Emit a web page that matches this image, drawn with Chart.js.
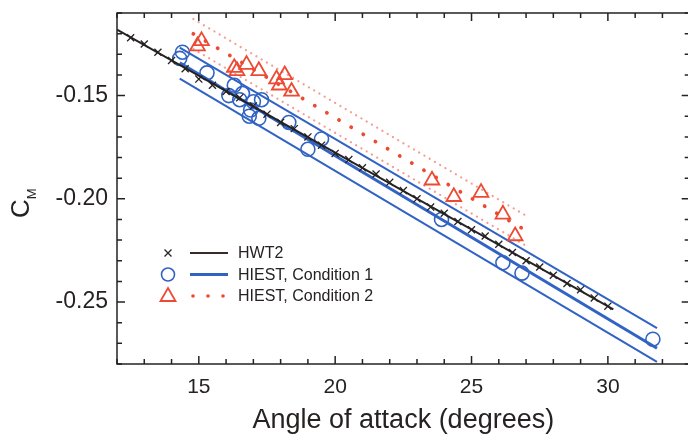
<!DOCTYPE html>
<html>
<head>
<meta charset="utf-8">
<script src="https://cdn.jsdelivr.net/npm/chart.js@4.4.1/dist/chart.umd.min.js"></script>
<style>
  html, body { margin: 0; padding: 0; background: #fff; overflow: hidden; }
  canvas { display: block; }
</style>
</head>
<body>
<canvas id="graficoCm" width="700" height="444"></canvas>
<script>
// ======== DADOS ========
// HWT2 (cruzes) e reta ajustada
const hwt2Alpha = [12.5, 13, 13.5, 14, 14.5, 15, 15.5, 16, 16.5, 17, 17.5, 18, 18.5, 19, 19.5, 20, 20.5, 21,
                   21.5, 22, 22.5, 23, 23.5, 24, 24.5, 25, 25.5, 26, 26.5, 27, 27.5, 28, 28.5, 29, 29.5, 30];
const hwt2Cm = [-0.122, -0.125, -0.129, -0.133, -0.137, -0.142, -0.145, -0.148, -0.151, -0.155, -0.159, -0.163,
                -0.166, -0.170, -0.174, -0.178, -0.181, -0.185, -0.188, -0.192, -0.196, -0.200, -0.204, -0.207,
                -0.211, -0.215, -0.218, -0.222, -0.226, -0.230, -0.233, -0.237, -0.241, -0.244, -0.248, -0.252];
const hwt2FitAlpha = [12, 30.2];
const hwt2FitCm = [-0.118, -0.2535];

// HIEST, condição 1 (círculos) + reta e limites
const cond1Alpha = [14.3, 14.4, 15.3, 16.1, 16.3, 16.5, 16.6, 16.85, 16.9, 17.0, 17.2, 17.3, 18.3, 19.0, 19.5,
                    23.9, 26.15, 26.85, 31.65];
const cond1Cm = [-0.132, -0.129, -0.139, -0.150, -0.145, -0.152, -0.149, -0.160, -0.157, -0.153, -0.161, -0.152,
                 -0.163, -0.176, -0.171, -0.210, -0.231, -0.236, -0.268];
const cond1FitAlpha = [14.3, 31.8];
const cond1FitCm = [-0.1341, -0.2724];
const cond1UpperCm = [-0.1268, -0.2626];
const cond1LowerCm = [-0.1418, -0.2790];

// HIEST, condição 2 (triângulos) + reta e limites
const cond2Alpha = [14.95, 15.1, 16.3, 16.4, 16.75, 17.2, 17.85, 17.95, 18.15, 18.4, 23.55, 24.35, 25.35, 26.15, 26.6];
const cond2Cm = [-0.126, -0.1235, -0.1365, -0.138, -0.135, -0.138, -0.142, -0.145, -0.140, -0.148, -0.191, -0.199,
                 -0.197, -0.2075, -0.218];
const cond2FitAlpha = [14.8, 27.0];
const cond2FitCm = [-0.1201, -0.2154];
const cond2UpperCm = [-0.1129, -0.2082];
const cond2LowerCm = [-0.1274, -0.2227];

// eixos
const xMin = 12, xMax = 33, xMajor = 5;
const yMin = -0.28, yMax = -0.11;

const AZUL = "#3163c4";
const VERMELHO = "#ec4a33";
const PRETO = "#262222";
const FONTE = "'Liberation Sans', Arial, Helvetica, sans-serif";

const pontos = (xs, ys) => xs.map((x, i) => ({ x: x, y: ys[i] }));

// ======== MOLDURA, TRAÇOS INTERNOS, TÍTULO Y E LEGENDA ========
const molduraPlugin = {
    id: "moldura",
    afterDraw(chart) {
        const { ctx, chartArea: a, scales: { x, y } } = chart;
        ctx.save();
        ctx.strokeStyle = PRETO;
        ctx.lineWidth = 1.5;
        ctx.strokeRect(a.left, a.top, a.right - a.left, a.bottom - a.top);

        // traços para dentro nos quatro lados
        ctx.beginPath();
        x.ticks.forEach(t => {
            const px = x.getPixelForValue(t.value);
            const len = Math.round(t.value) % xMajor === 0 ? 8 : 5;
            ctx.moveTo(px, a.bottom); ctx.lineTo(px, a.bottom - len);
            ctx.moveTo(px, a.top); ctx.lineTo(px, a.top + len);
        });
        y.ticks.forEach(t => {
            const py = y.getPixelForValue(t.value);
            const len = Math.round(t.value * 100) % 5 === 0 ? 8 : 5;
            ctx.moveTo(a.left, py); ctx.lineTo(a.left + len, py);
            ctx.moveTo(a.right, py); ctx.lineTo(a.right - len, py);
        });
        ctx.stroke();

        // título do eixo Y: C com índice M
        ctx.fillStyle = PRETO;
        ctx.translate(29, 218);
        ctx.rotate(-Math.PI / 2);
        ctx.textAlign = "left";
        ctx.textBaseline = "alphabetic";
        ctx.font = "26px " + FONTE;
        ctx.fillText("C", 0, 0);
        const wC = ctx.measureText("C").width;
        ctx.font = "13px " + FONTE;
        ctx.fillText("M", wC, 7);
        ctx.restore();

        // legenda
        const lx = a.left + 51, ly = a.top + 240, passo = 21.5;
        ctx.save();
        ctx.font = "16px " + FONTE;
        ctx.textBaseline = "middle";
        ctx.fillStyle = PRETO;

        // HWT2
        ctx.strokeStyle = PRETO;
        ctx.lineWidth = 1.3;
        ctx.beginPath();
        ctx.moveTo(lx - 3.5, ly - 3.5); ctx.lineTo(lx + 3.5, ly + 3.5);
        ctx.moveTo(lx + 3.5, ly - 3.5); ctx.lineTo(lx - 3.5, ly + 3.5);
        ctx.stroke();
        ctx.strokeStyle = "#3a2a28";
        ctx.lineWidth = 2;
        ctx.beginPath(); ctx.moveTo(lx + 22, ly); ctx.lineTo(lx + 60, ly); ctx.stroke();
        ctx.fillText("HWT2", lx + 70, ly + 1);

        // condição 1
        const y1 = ly + passo;
        ctx.strokeStyle = AZUL;
        ctx.lineWidth = 1.6;
        ctx.beginPath(); ctx.arc(lx, y1, 6.5, 0, Math.PI * 2); ctx.stroke();
        ctx.lineWidth = 3;
        ctx.beginPath(); ctx.moveTo(lx + 22, y1); ctx.lineTo(lx + 60, y1); ctx.stroke();
        ctx.fillText("HIEST, Condition 1", lx + 70, y1 + 1);

        // condição 2
        const y2 = ly + passo * 2;
        ctx.strokeStyle = VERMELHO;
        ctx.lineWidth = 1.8;
        ctx.beginPath();
        ctx.moveTo(lx, y2 - 8); ctx.lineTo(lx + 7.5, y2 + 5); ctx.lineTo(lx - 7.5, y2 + 5); ctx.closePath();
        ctx.stroke();
        ctx.fillStyle = VERMELHO;
        [25, 40, 55].forEach(dx => {
            ctx.beginPath(); ctx.arc(lx + dx, y2, 1.8, 0, Math.PI * 2); ctx.fill();
        });
        ctx.fillStyle = PRETO;
        ctx.fillText("HIEST, Condition 2", lx + 70, y2 + 1);
        ctx.restore();
    }
};

// ======== GRÁFICO ========
const graficoCm = document.getElementById("graficoCm");

new Chart(graficoCm, {
    type: "scatter",
    data: {
        datasets: [
            {
                label: "HIEST, Condition 2",
                data: pontos(cond2Alpha, cond2Cm),
                pointStyle: "triangle",
                pointRadius: 8.5,
                borderColor: VERMELHO,
                backgroundColor: "transparent",
                pointBorderWidth: 1.8,
                order: 1
            },
            {
                label: "HWT2",
                data: pontos(hwt2Alpha, hwt2Cm),
                pointStyle: "crossRot",
                pointRadius: 5,
                borderColor: PRETO,
                pointBorderWidth: 1.3,
                order: 2
            },
            {
                label: "HWT2 ajuste",
                data: pontos(hwt2FitAlpha, hwt2FitCm),
                showLine: true,
                pointRadius: 0,
                borderColor: PRETO,
                borderWidth: 2,
                order: 3
            },
            {
                label: "HIEST, Condition 1",
                data: pontos(cond1Alpha, cond1Cm),
                pointStyle: "circle",
                pointRadius: 7,
                borderColor: AZUL,
                backgroundColor: "transparent",
                pointBorderWidth: 1.6,
                order: 4
            },
            {
                label: "Condição 1 ajuste",
                data: pontos(cond1FitAlpha, cond1FitCm),
                showLine: true,
                pointRadius: 0,
                borderColor: AZUL,
                borderWidth: 3,
                order: 5
            },
            {
                label: "Condição 1 superior",
                data: pontos(cond1FitAlpha, cond1UpperCm),
                showLine: true,
                pointRadius: 0,
                borderColor: AZUL,
                borderWidth: 2,
                order: 5
            },
            {
                label: "Condição 1 inferior",
                data: pontos(cond1FitAlpha, cond1LowerCm),
                showLine: true,
                pointRadius: 0,
                borderColor: AZUL,
                borderWidth: 2,
                order: 5
            },
            {
                label: "Condição 2 ajuste",
                data: pontos(cond2FitAlpha, cond2FitCm),
                showLine: true,
                pointRadius: 0,
                borderColor: VERMELHO,
                borderWidth: 3.8,
                borderDash: [0.1, 14],
                borderCapStyle: "round",
                order: 6
            },
            {
                label: "Condição 2 superior",
                data: pontos(cond2FitAlpha, cond2UpperCm),
                showLine: true,
                pointRadius: 0,
                borderColor: "rgba(236, 90, 70, 0.6)",
                borderWidth: 2.2,
                borderDash: [0.1, 6],
                borderCapStyle: "round",
                order: 6
            },
            {
                label: "Condição 2 inferior",
                data: pontos(cond2FitAlpha, cond2LowerCm),
                showLine: true,
                pointRadius: 0,
                borderColor: "rgba(236, 90, 70, 0.6)",
                borderWidth: 2.2,
                borderDash: [0.1, 6],
                borderCapStyle: "round",
                order: 6
            }
        ]
    },
    options: {
        responsive: false,
        animation: false,
        layout: { padding: { top: 13, right: 4, left: 0, bottom: 0 } },
        plugins: {
            legend: { display: false },
            tooltip: { enabled: false }
        },
        scales: {
            x: {
                type: "linear",
                min: xMin,
                max: xMax,
                grid: { display: false, drawTicks: false },
                border: { display: false },
                ticks: {
                    stepSize: 1,
                    autoSkip: false,
                    maxRotation: 0,
                    padding: 11,
                    color: PRETO,
                    font: { family: FONTE, size: 21 },
                    callback: v => (v % xMajor === 0 ? v : "")
                },
                title: {
                    display: true,
                    text: "Angle of attack (degrees)",
                    color: PRETO,
                    font: { family: FONTE, size: 27 },
                    padding: { top: 0, bottom: 7 }
                },
                afterFit: scale => {
                    scale.height = 80;
                    scale.paddingLeft = 0;
                    scale.paddingRight = 0;
                }
            },
            y: {
                type: "linear",
                min: yMin,
                max: yMax,
                grid: { display: false, drawTicks: false },
                border: { display: false },
                ticks: {
                    stepSize: 0.01,
                    autoSkip: false,
                    padding: 9,
                    color: PRETO,
                    font: { family: FONTE, size: 23 },
                    callback: v => (Math.round(v * 100) % 5 === 0 ? v.toFixed(2) : "")
                },
                afterFit: scale => {
                    scale.width = 117;
                    scale.paddingTop = 0;
                    scale.paddingBottom = 0;
                }
            }
        }
    },
    plugins: [molduraPlugin]
});
</script>
</body>
</html>
